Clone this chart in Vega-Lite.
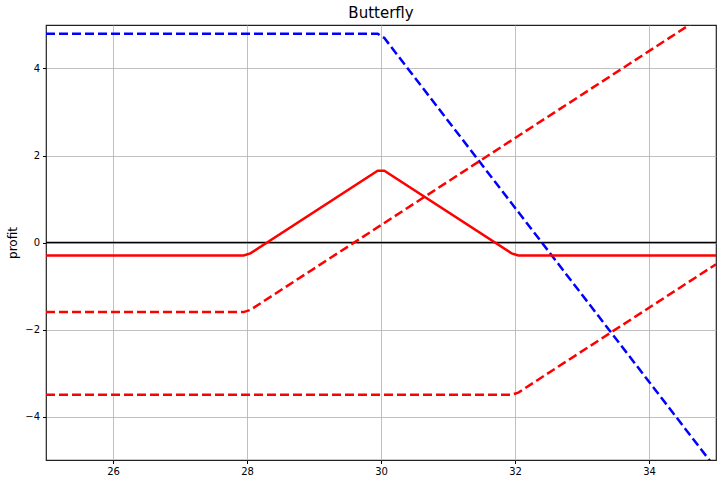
{
  "$schema": "https://vega.github.io/schema/vega-lite/v6.json",
  "autosize": {"type": "none"},
  "padding": {"left": 46, "top": 25, "right": 10, "bottom": 24},
  "width": 670,
  "height": 435,
  "background": "white",
  "title": {"text": "Butterfly", "fontSize": 15, "font": "DejaVu Sans", "fontWeight": "normal", "color": "black", "offset": 4, "anchor": "middle"},
  "config": {
    "view": {"stroke": "#222222", "strokeWidth": 1.2},
    "axis": {
      "labelFont": "DejaVu Sans", "labelFontSize": 10, "labelColor": "black",
      "titleFont": "DejaVu Sans", "titleFontSize": 12, "titleColor": "black", "titleFontWeight": "normal",
      "gridColor": "#b0b0b0", "gridWidth": 0.8, "gridOpacity": 1,
      "tickColor": "black", "tickSize": 3.5, "domain": false, "labelPadding": 3
    }
  },
  "data": {"values": [
    {"price": 25, "profit": 4.8, "series": "short30"},
    {"price": 29.95, "profit": 4.8, "series": "short30"},
    {"price": 30.05, "profit": 4.7, "series": "short30"},
    {"price": 35, "profit": -5.2, "series": "short30"},
    {"price": 25, "profit": -1.6, "series": "long28"},
    {"price": 27.95, "profit": -1.6, "series": "long28"},
    {"price": 28.05, "profit": -1.55, "series": "long28"},
    {"price": 35, "profit": 5.4, "series": "long28"},
    {"price": 25, "profit": -3.5, "series": "long32"},
    {"price": 31.95, "profit": -3.5, "series": "long32"},
    {"price": 32.05, "profit": -3.45, "series": "long32"},
    {"price": 35, "profit": -0.5, "series": "long32"},
    {"price": 25, "profit": -0.3, "series": "total"},
    {"price": 27.95, "profit": -0.3, "series": "total"},
    {"price": 28.05, "profit": -0.25, "series": "total"},
    {"price": 29.95, "profit": 1.65, "series": "total"},
    {"price": 30.05, "profit": 1.65, "series": "total"},
    {"price": 31.95, "profit": -0.25, "series": "total"},
    {"price": 32.05, "profit": -0.3, "series": "total"},
    {"price": 35, "profit": -0.3, "series": "total"}
  ]},
  "encoding": {
    "x": {"field": "price", "type": "quantitative", "scale": {"domain": [25, 35], "nice": false, "zero": false},
      "axis": {"title": null, "values": [26, 28, 30, 32, 34]}},
    "y": {"field": "profit", "type": "quantitative", "scale": {"domain": [-5, 5], "nice": false},
      "axis": {"title": "profit", "values": [-4, -2, 0, 2, 4], "titlePadding": 5}}
  },
  "layer": [
    {
      "data": {"values": [{"y0": 0}]},
      "mark": {"type": "rule", "color": "black", "strokeWidth": 1.5},
      "encoding": {"y": {"field": "y0", "type": "quantitative"}, "x": null}
    },
    {
      "transform": [{"filter": "datum.series === 'short30'"}],
      "mark": {"type": "line", "color": "blue", "strokeWidth": 2.5, "strokeDash": [9, 4], "clip": true}
    },
    {
      "transform": [{"filter": "datum.series === 'long28'"}],
      "mark": {"type": "line", "color": "red", "strokeWidth": 2.5, "strokeDash": [9, 4], "clip": true}
    },
    {
      "transform": [{"filter": "datum.series === 'long32'"}],
      "mark": {"type": "line", "color": "red", "strokeWidth": 2.5, "strokeDash": [9, 4], "clip": true}
    },
    {
      "transform": [{"filter": "datum.series === 'total'"}],
      "mark": {"type": "line", "color": "red", "strokeWidth": 2.5, "clip": true}
    }
  ]
}
